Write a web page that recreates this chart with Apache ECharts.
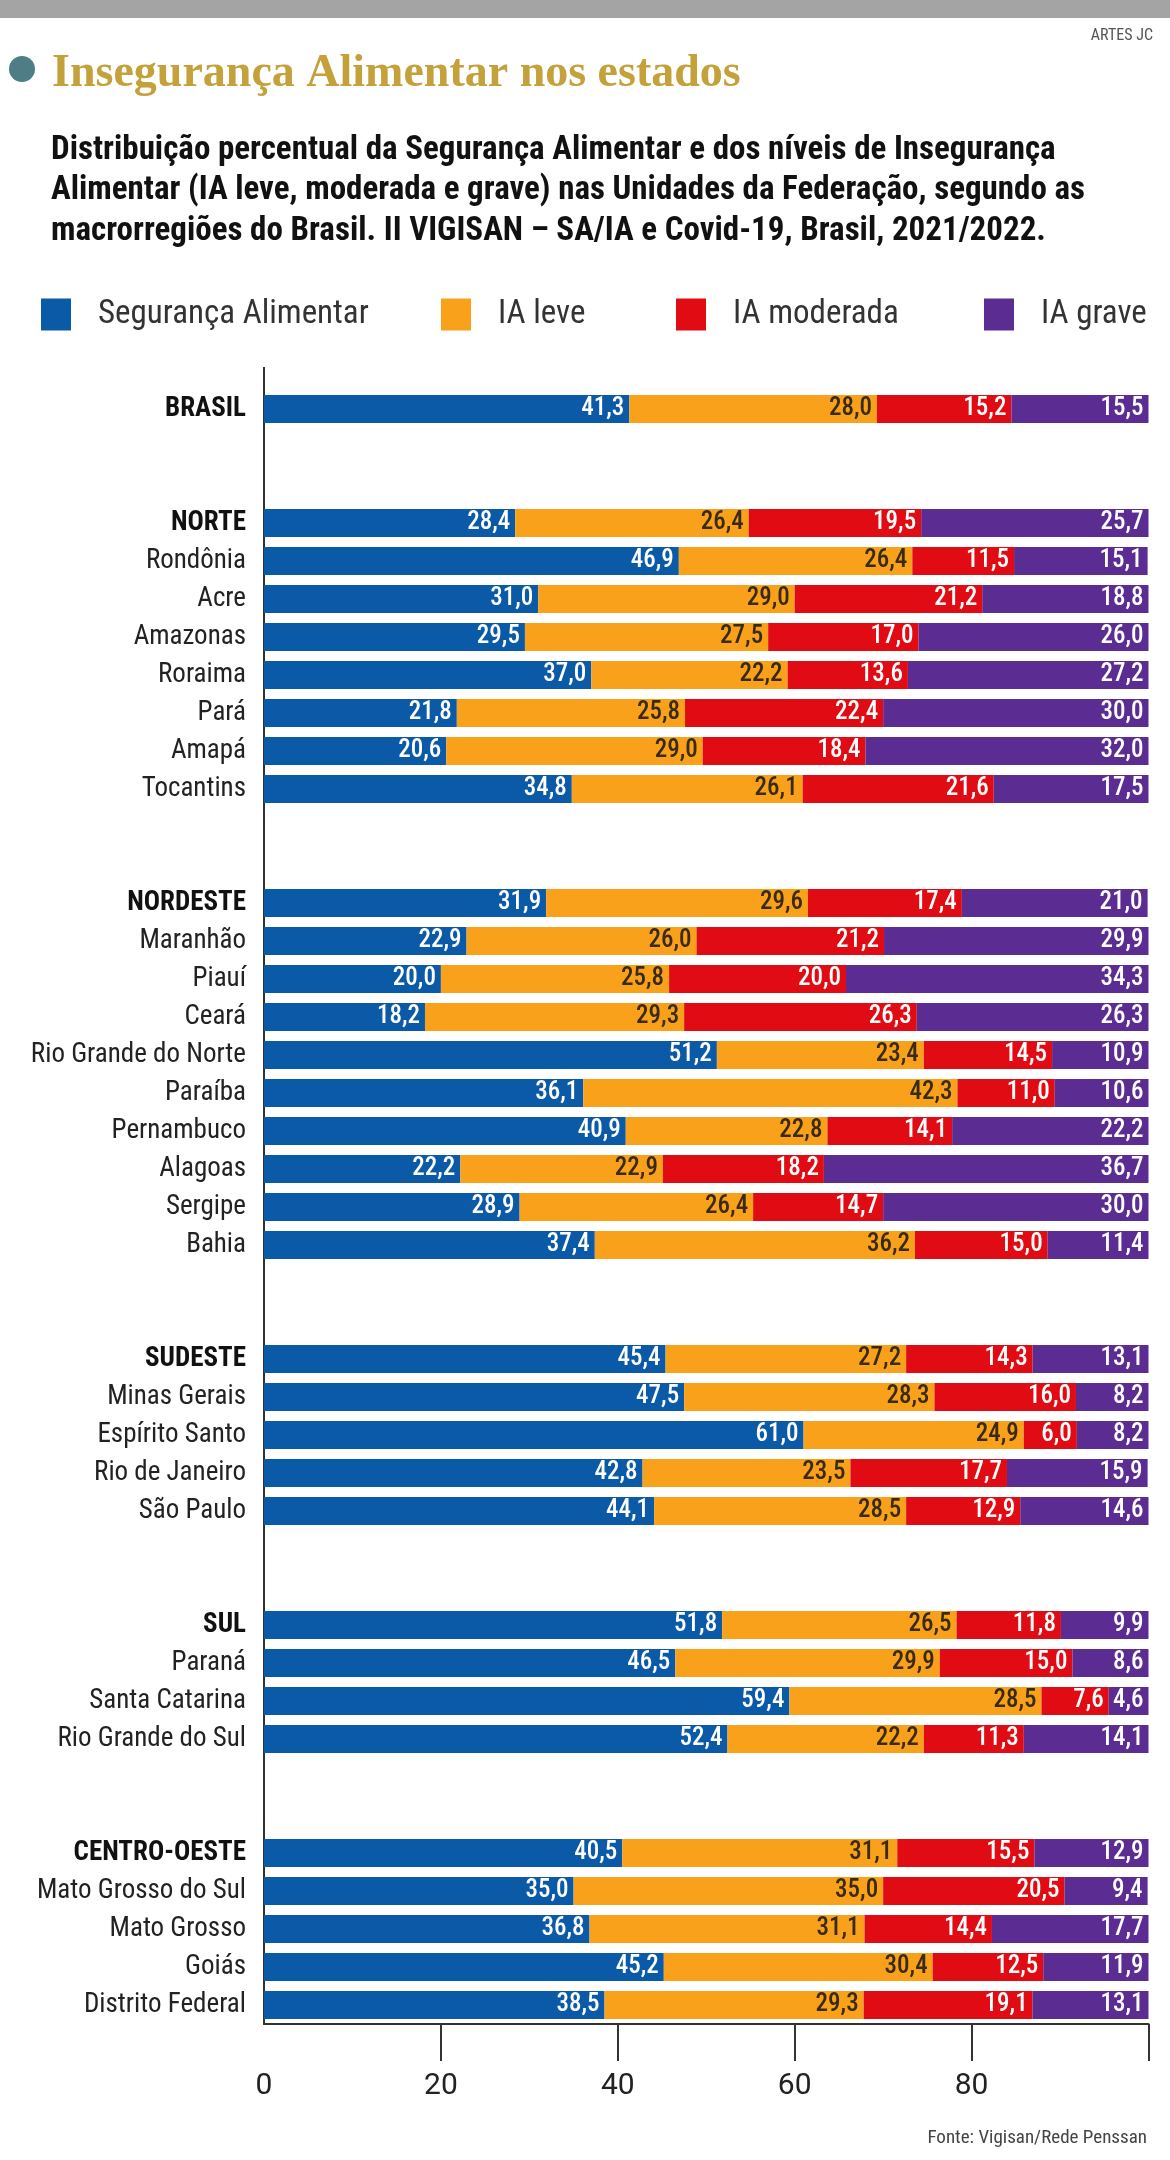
<!DOCTYPE html>
<html>
<head>
<meta charset="utf-8">
<script src="https://cdn.jsdelivr.net/npm/echarts@6/dist/echarts.min.js"></script>
<style>
html,body{margin:0;padding:0;background:#fff;}
#chart{width:1170px;height:2160px;}
</style>
</head>
<body>
<div id="chart"></div>
<script>
// ---------- DATA ----------
const categories = ['BRASIL',
  'NORTE','Rondônia','Acre','Amazonas','Roraima','Pará','Amapá','Tocantins',
  'NORDESTE','Maranhão','Piauí','Ceará','Rio Grande do Norte','Paraíba','Pernambuco','Alagoas','Sergipe','Bahia',
  'SUDESTE','Minas Gerais','Espírito Santo','Rio de Janeiro','São Paulo',
  'SUL','Paraná','Santa Catarina','Rio Grande do Sul',
  'CENTRO-OESTE','Mato Grosso do Sul','Mato Grosso','Goiás','Distrito Federal'];
const groupHeads = ['BRASIL','NORTE','NORDESTE','SUDESTE','SUL','CENTRO-OESTE'];
const segurancaAlimentar = [41.3,
  28.4,46.9,31.0,29.5,37.0,21.8,20.6,34.8,
  31.9,22.9,20.0,18.2,51.2,36.1,40.9,22.2,28.9,37.4,
  45.4,47.5,61.0,42.8,44.1,
  51.8,46.5,59.4,52.4,
  40.5,35.0,36.8,45.2,38.5];
const iaLeve = [28.0,
  26.4,26.4,29.0,27.5,22.2,25.8,29.0,26.1,
  29.6,26.0,25.8,29.3,23.4,42.3,22.8,22.9,26.4,36.2,
  27.2,28.3,24.9,23.5,28.5,
  26.5,29.9,28.5,22.2,
  31.1,35.0,31.1,30.4,29.3];
const iaModerada = [15.2,
  19.5,11.5,21.2,17.0,13.6,22.4,18.4,21.6,
  17.4,21.2,20.0,26.3,14.5,11.0,14.1,18.2,14.7,15.0,
  14.3,16.0,6.0,17.7,12.9,
  11.8,15.0,7.6,11.3,
  15.5,20.5,14.4,12.5,19.1];
const iaGrave = [15.5,
  25.7,15.1,18.8,26.0,27.2,30.0,32.0,17.5,
  21.0,29.9,34.3,26.3,10.9,10.6,22.2,36.7,30.0,11.4,
  13.1,8.2,8.2,15.9,14.6,
  9.9,8.6,4.6,14.1,
  12.9,9.4,17.7,11.9,13.1];
const seriesNames = ['Segurança Alimentar','IA leve','IA moderada','IA grave'];
const xTickLabels = [0,20,40,60,80];
const xTicks = [20,40,60,80,100];

const NARROW = "'Roboto Condensed',Roboto,sans-serif";

// ---------- build rows with spacers ----------
const rows=[], dS=[], dL=[], dM=[], dG=[];
let sp=1;
categories.forEach((c,i)=>{
  if(i>0 && groupHeads.includes(c)){
    for(let k=0;k<2;k++){ rows.push(' '.repeat(sp++)); dS.push(null); dL.push(null); dM.push(null); dG.push(null); }
  }
  rows.push(c); dS.push(segurancaAlimentar[i]); dL.push(iaLeve[i]); dM.push(iaModerada[i]); dG.push(iaGrave[i]);
});

const colors=['#0b5aa8','#f9a11b','#e10b14','#5b2c92'];
const labelColors=['#ffffff','#3a2a10','#ffffff','#ffffff'];
const seriesData=[dS,dL,dM,dG];

const fmt = p => (p.value==null ? '' : p.value.toFixed(1).replace('.',','));

const chart = echarts.init(document.getElementById('chart'), null, {renderer:'canvas'});
chart.setOption({
  backgroundColor:'#ffffff',
  animation:false,
  title:[
    {text:'Insegurança Alimentar nos estados', left:47, top:41,
     textStyle:{fontFamily:"'Liberation Serif',serif", fontWeight:'bold', fontSize:46, lineHeight:56, color:'#c4a13a'}},
    {text:'Distribuição percentual da Segurança Alimentar e dos níveis de Insegurança\nAlimentar (IA leve, moderada e grave) nas Unidades da Federação, segundo as\nmacrorregiões do Brasil. II VIGISAN – SA/IA e Covid-19, Brasil, 2021/2022.',
     left:46, top:125,
     textStyle:{fontFamily:NARROW, fontWeight:'bold', fontSize:33, lineHeight:40.5, color:'#111'}},
    {text:'ARTES JC', right:12, top:23, textStyle:{fontFamily:NARROW, fontWeight:'normal', fontSize:16, color:'#555'}},
    {text:'Fonte: Vigisan/Rede Penssan', right:18, top:2124, textStyle:{fontFamily:NARROW, fontWeight:'normal', fontSize:19, color:'#444'}}
  ],
  legend: seriesNames.map((n,i)=>({
    data:[n], left:[36,436,671,979][i], top:293, itemWidth:30, itemHeight:32, icon:'rect',
    selectedMode:false,
    textStyle:{fontFamily:NARROW, fontSize:33, color:'#333', padding:[0,0,0,22]}
  })),
  grid:{left:264, right:21.5, top:390, height:1634, containLabel:false},
  xAxis:{
    type:'value', min:0, max:100, position:'bottom',
    axisLine:{show:true, lineStyle:{color:'#333', width:2}},
    axisTick:{show:true, customValues:xTicks, length:37, lineStyle:{color:'#333', width:2}},
    axisLabel:{customValues:xTickLabels, margin:47, fontFamily:'Roboto', fontSize:30, color:'#222'},
    splitLine:{show:false}
  },
  yAxis:{
    type:'category', inverse:true, data:rows,
    axisLine:{show:true, lineStyle:{color:'#333', width:2}},
    axisTick:{show:false},
    axisLabel:{margin:18, interval:0, fontFamily:NARROW, fontSize:27, color:'#222',
      formatter: v => groupHeads.includes(v) ? '{b|'+v+'}' : v,
      rich:{b:{fontFamily:NARROW, fontWeight:'bold', fontSize:27, color:'#111'}}}
  },
  series: seriesNames.map((n,i)=>({
    name:n, type:'bar', stack:'total', barWidth:28, data:seriesData[i],
    itemStyle:{color:colors[i]},
    label:{show:true, position:'insideRight', distance:5, formatter:fmt,
      fontFamily:NARROW, fontSize:25, fontWeight:500, color:labelColors[i]}
  })),
  graphic:[
    {type:'rect', shape:{x:0,y:0,width:1170,height:18}, style:{fill:'#a4a4a4'}, silent:true},
    {type:'circle', shape:{cx:22, cy:69, r:13}, style:{fill:'#4e7d85'}, silent:true},
    {type:'line', shape:{x1:264,y1:367,x2:264,y2:391}, style:{stroke:'#333', lineWidth:2}, silent:true}
  ]
});
</script>
</body>
</html>
